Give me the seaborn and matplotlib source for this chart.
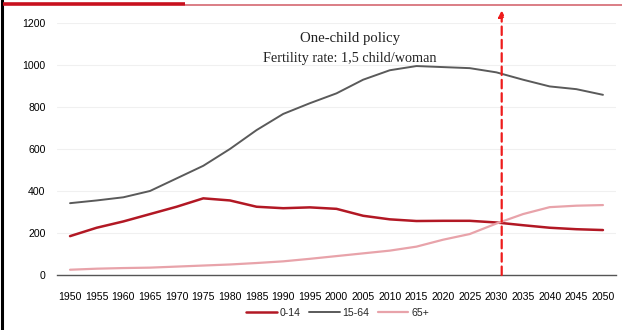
import matplotlib
matplotlib.use("Agg")
import matplotlib.pyplot as plt
from matplotlib.lines import Line2D
from matplotlib.ticker import FixedLocator
import seaborn as sns
import pandas as pd

years = [1950, 1955, 1960, 1965, 1970, 1975, 1980, 1985, 1990, 1995, 2000,
         2005, 2010, 2015, 2020, 2025, 2030, 2035, 2040, 2045, 2050]
age_0_14 = [185, 225, 255, 290, 325, 365, 355, 325, 318, 322, 315,
            282, 265, 257, 258, 258, 250, 237, 225, 218, 214]
age_15_64 = [342, 355, 370, 400, 460, 520, 600, 690, 767, 818, 865,
             930, 975, 995, 990, 985, 965, 930, 898, 885, 858]
age_65_plus = [25, 30, 33, 35, 40, 45, 50, 57, 65, 77, 90,
               103, 116, 135, 168, 195, 245, 290, 323, 330, 333]
groups = ["0-14", "15-64", "65+"]
y_ticks = [0, 200, 400, 600, 800, 1000, 1200]
policy_pos = 16.2
note_lines = ["One-child policy", "Fertility rate: 1,5 child/woman"]

rows = []
for name, vals in zip(groups, [age_0_14, age_15_64, age_65_plus]):
    for i, (yr, v) in enumerate(zip(years, vals)):
        rows.append({"pos": i, "year": yr, "value": v, "group": name})
df = pd.DataFrame(rows)

sns.set_style("white")
plt.rcParams["font.family"] = ["Liberation Sans", "DejaVu Sans"]

fig = plt.figure(figsize=(6.22, 3.30), dpi=100)
ax = fig.add_axes([0.0912, 0.1667, 0.8996, 0.7636])

palette = {"0-14": "#B21824", "15-64": "#5a5a5a", "65+": "#E8A3AA"}
widths = {"0-14": 1.8, "15-64": 1.4, "65+": 1.6}
sns.lineplot(data=df, x="pos", y="value", hue="group", palette=palette,
             ax=ax, legend=False)
for line, g in zip(ax.get_lines(), groups):
    line.set_linewidth(widths[g])

ax.set_xlim(-0.5, len(years) - 0.5)
ax.set_ylim(0, 1200)
ax.set_xticks(range(len(years)))
ax.set_xticklabels([str(y) for y in years], fontsize=7.6, color="#000000")
ax.xaxis.set_minor_locator(FixedLocator([i - 0.5 for i in range(len(years) + 1)]))
ax.tick_params(axis="x", which="major", length=0, pad=12)
ax.tick_params(axis="x", which="minor", length=4, width=0.9, color="#444444",
               direction="inout")
ax.set_yticks(y_ticks)
ax.set_yticklabels([str(v) for v in y_ticks], fontsize=7.6, color="#000000")
ax.tick_params(axis="y", length=0, pad=8)
ax.yaxis.grid(True, color="#f0f0f0", linewidth=0.8)
ax.set_xlabel("")
ax.set_ylabel("")
for s in ["top", "right", "left"]:
    ax.spines[s].set_visible(False)
ax.spines["bottom"].set_color("#555555")
ax.spines["bottom"].set_linewidth(1.0)

# vertical policy marker with arrowhead
ax.annotate("", xy=(policy_pos, 1260), xytext=(policy_pos, 0),
            xycoords="data", annotation_clip=False,
            arrowprops=dict(arrowstyle="-|>", color="#ee1c1c", lw=1.6,
                            linestyle=(0, (3.8, 2.2)), mutation_scale=9,
                            shrinkA=0, shrinkB=0))

ax.text(0.524, 0.940, note_lines[0], transform=ax.transAxes, ha="center",
        va="center", fontsize=10.6, family="Liberation Serif", color="#222222")
ax.text(0.524, 0.861, note_lines[1], transform=ax.transAxes, ha="center",
        va="center", fontsize=10.3, family="Liberation Serif", color="#222222")

handles = [Line2D([0], [0], color=palette[g], lw=widths[g]) for g in groups]
fig.legend(handles, groups, loc="center", bbox_to_anchor=(0.543, 0.052),
           ncol=3, frameon=False, fontsize=7.6, handlelength=2.9,
           handletextpad=0.3, columnspacing=0.75)

# decorative frame pieces
fig.add_artist(Line2D([0.003, 0.003], [0, 1], color="black", lw=2.2,
                      transform=fig.transFigure))
fig.add_artist(Line2D([0.005, 0.298], [0.988, 0.988], color="#C8101E", lw=2.6,
                      transform=fig.transFigure, solid_capstyle="butt"))
fig.add_artist(Line2D([0.298, 1.0], [0.985, 0.985], color="#D8737C", lw=1.3,
                      transform=fig.transFigure, solid_capstyle="butt"))

fig.savefig("out.png", dpi=100)
